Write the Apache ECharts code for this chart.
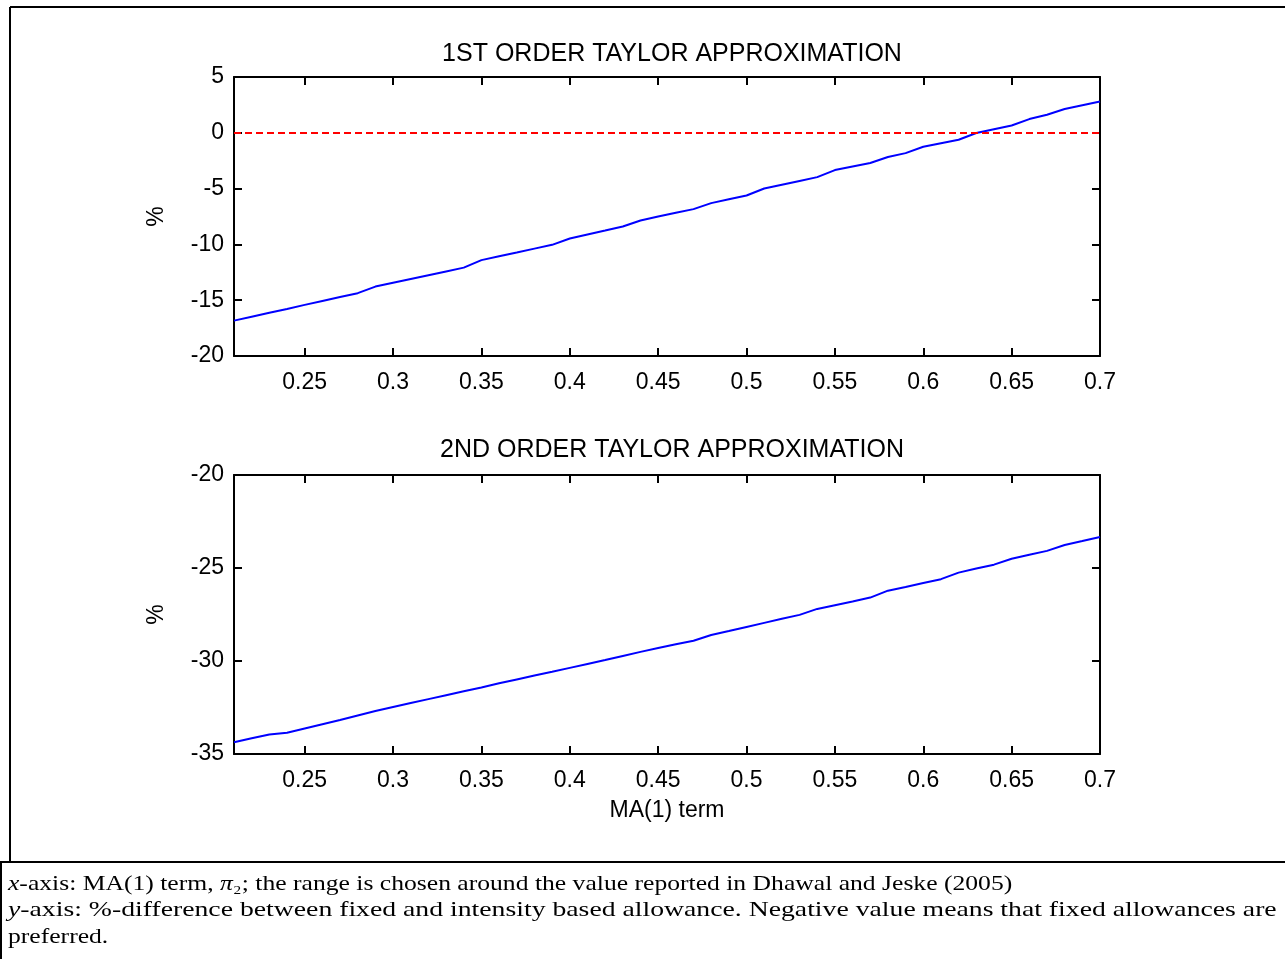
<!DOCTYPE html>
<html>
<head>
<meta charset="utf-8">
<script src="https://cdn.jsdelivr.net/npm/echarts@6/dist/echarts.min.js"></script>
<style>
html,body{margin:0;padding:0;background:#fff;}
#c{width:1285px;height:959px;}
</style>
</head>
<body>
<div id="c"></div>
<script>
const xValues = [0.21,0.22,0.23,0.24,0.25,0.26,0.27,0.28,0.29,0.30,0.31,0.32,0.33,0.34,0.35,0.36,0.37,0.38,0.39,0.40,0.41,0.42,0.43,0.44,0.45,0.46,0.47,0.48,0.49,0.50,0.51,0.52,0.53,0.54,0.55,0.56,0.57,0.58,0.59,0.60,0.61,0.62,0.63,0.64,0.65,0.66,0.67,0.68,0.69,0.70];
const firstOrder = [-16.83,-16.48,-16.13,-15.78,-15.42,-15.07,-14.72,-14.37,-13.78,-13.44,-13.10,-12.76,-12.42,-12.08,-11.41,-11.07,-10.73,-10.38,-10.04,-9.47,-9.11,-8.76,-8.40,-7.86,-7.50,-7.17,-6.84,-6.30,-5.96,-5.62,-4.99,-4.65,-4.31,-3.97,-3.34,-3.02,-2.71,-2.17,-1.82,-1.25,-0.93,-0.62,-0.02,0.32,0.66,1.23,1.62,2.13,2.47,2.81];
const secondOrder = [-34.37,-34.15,-33.95,-33.86,-33.63,-33.40,-33.17,-32.93,-32.69,-32.47,-32.26,-32.05,-31.84,-31.63,-31.42,-31.20,-30.99,-30.78,-30.58,-30.37,-30.16,-29.95,-29.73,-29.51,-29.30,-29.10,-28.91,-28.60,-28.39,-28.17,-27.95,-27.73,-27.52,-27.20,-27.00,-26.80,-26.59,-26.22,-26.02,-25.81,-25.60,-25.25,-25.03,-24.82,-24.50,-24.29,-24.08,-23.76,-23.55,-23.33];
const xTicks = [0.25,0.3,0.35,0.4,0.45,0.5,0.55,0.6,0.65,0.7];
const titles = ['1ST ORDER TAYLOR APPROXIMATION','2ND ORDER TAYLOR APPROXIMATION'];
const yLabel = '%';
const xLabel = 'MA(1) term';
const referenceLevel = 0;
const captionLines = [
  ['x','-axis: MA(1) term, ','π','₂','; the range is chosen around the value reported in Dhawal and Jeske (2005)'],
  ['y','-axis: %-difference between fixed and intensity based allowance. Negative value means that fixed allowances are'],
  ['','preferred.']
];

const FONT = 'Liberation Sans, Arial, sans-serif';
const axisLine = {show:true, onZero:false, lineStyle:{color:'#000', width:2}};
const tickStyle = {show:true, inside:true, length:8, lineStyle:{color:'#000', width:2}, customValues:xTicks};
function xAx(grid, pos, labels, name){
  return {
    type:'value', gridIndex:grid, position:pos, min:0.21, max:0.7,
    axisLine, axisTick:tickStyle,
    axisLabel: labels ? {show:true, customValues:xTicks, color:'#000', fontSize:23, fontFamily:FONT, margin:15,
      formatter:v=>String(+v.toFixed(2))} : {show:false},
    splitLine:{show:false},
    name: name || '', nameLocation:'middle', nameGap:45,
    nameTextStyle:{color:'#000', fontSize:23, fontFamily:FONT}
  };
}
function yAx(grid, pos, labels, min, max){
  return {
    type:'value', gridIndex:grid, position:pos, min, max, interval:5,
    axisLine, axisTick:{show:true, inside:true, length:8, lineStyle:{color:'#000', width:2}},
    axisLabel: labels ? {show:true, color:'#000', fontSize:23, fontFamily:FONT, margin:10} : {show:false},
    splitLine:{show:false},
    name: labels ? yLabel : '', nameLocation:'middle', nameGap:66, nameRotate:90,
    nameTextStyle:{color:'#000', fontSize:23, fontFamily:FONT}
  };
}

const captionScale = [1.22, 1.32, 1.22];
const captionGraphics = captionLines.map((parts, i) => {
  let txt = '';
  if (i === 0) {
    txt = '{i|' + parts[0] + '}' + parts[1] + '{i|' + parts[2] + '}{s|' + parts[3] + '}' + parts[4];
  } else {
    txt = (parts[0] ? '{i|' + parts[0] + '}' : '') + parts[1];
  }
  return {
    type:'text', x:8, y:884 + i*26.5, scaleX:captionScale[i],
    style:{text:txt, fill:'#000', font:'21px "Liberation Serif", "Times New Roman", serif', verticalAlign:'middle',
      rich:{i:{fontStyle:'italic', fontFamily:'Liberation Serif', fontSize:21},
            s:{fontFamily:'Liberation Serif', fontSize:21}}}
  };
});

const option = {
  animation:false,
  backgroundColor:'#fff',
  title: titles.map((t,i)=>({
    text:t, left:667, textAlign:'center', top: i===0 ? 37 : 433,
    textStyle:{color:'#000', fontSize:25, fontWeight:'normal', fontFamily:FONT}
  })),
  grid:[
    {left:234, top:77, width:866, height:279},
    {left:234, top:475, width:866, height:279}
  ],
  xAxis:[ xAx(0,'bottom',true), xAx(0,'top',false), xAx(1,'bottom',true,xLabel), xAx(1,'top',false) ],
  yAxis:[ yAx(0,'left',true,-20,5), yAx(0,'right',false,-20,5), yAx(1,'left',true,-35,-20), yAx(1,'right',false,-35,-20) ],
  series:[
    {type:'line', xAxisIndex:0, yAxisIndex:0, data:xValues.map((x,i)=>[x, firstOrder[i]]),
     showSymbol:false, lineStyle:{color:'#0000ff', width:2}, itemStyle:{color:'#0000ff'},
     markLine:{silent:true, symbol:'none', label:{show:false},
       lineStyle:{color:'#ff0000', width:2, type:[7,4]}, data:[{yAxis:referenceLevel}]}},
    {type:'line', xAxisIndex:2, yAxisIndex:2, data:xValues.map((x,i)=>[x, secondOrder[i]]),
     showSymbol:false, lineStyle:{color:'#0000ff', width:2}, itemStyle:{color:'#0000ff'}}
  ],
  graphic:[
    {type:'line', shape:{x1:10,y1:7,x2:1285,y2:7}, style:{stroke:'#000', lineWidth:2}},
    {type:'line', shape:{x1:10,y1:7,x2:10,y2:862}, style:{stroke:'#000', lineWidth:2}},
    {type:'line', shape:{x1:0,y1:862,x2:1285,y2:862}, style:{stroke:'#000', lineWidth:2}},
    {type:'line', shape:{x1:1,y1:862,x2:1,y2:959}, style:{stroke:'#000', lineWidth:2}},
    ...captionGraphics
  ]
};
const chart = echarts.init(document.getElementById('c'), null, {renderer:'canvas'});
chart.setOption(option);
</script>
</body>
</html>
